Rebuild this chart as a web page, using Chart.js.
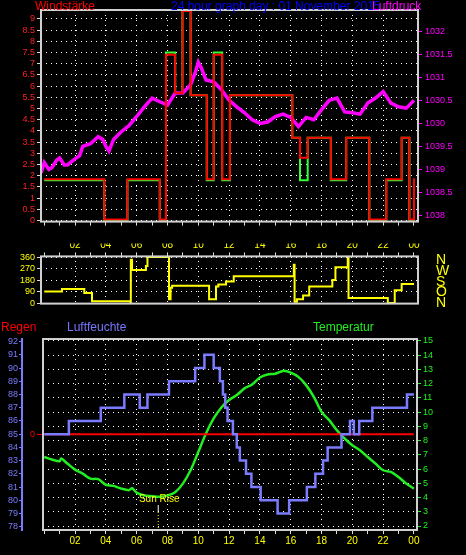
<!DOCTYPE html>
<html><head><meta charset="utf-8">
<script src="https://cdn.jsdelivr.net/npm/chart.js@4/dist/chart.umd.min.js"></script>
<style>
body{margin:0;background:#000;width:466px;height:555px;overflow:hidden;position:relative;font-family:"Liberation Sans",Arial,sans-serif}
canvas{position:absolute;left:0}
.t{position:absolute;font-size:12px;white-space:nowrap}
</style></head><body>
<canvas id="c1" width="466" height="230" style="top:0"></canvas>
<canvas id="c2" width="466" height="100" style="top:230px"></canvas>
<canvas id="c3" width="466" height="235" style="top:320px"></canvas>
<div class="t" style="left:35px;top:-1px;color:#f00">Windstärke</div>
<div class="t" style="left:171px;top:-1px;color:#0000ff">24 hour graph day : 01 November 2015</div>
<div class="t" style="left:372px;top:-1px;color:#f0f">Luftdruck</div>
<div class="t" style="left:1px;top:320px;color:#f00">Regen</div>
<div class="t" style="left:67px;top:320px;color:#7878ff">Luftfeuchte</div>
<div class="t" style="left:313px;top:320px;color:#22ee22">Temperatur</div>
<script>
// ---- data ----
const windHours = [0,3.9,5.4,7.5,7.9,8.5,8.97,9.5,10.55,11.0,11.55,12.05,16.1,16.6,17.1,18.6,19.6,21.1,22.2,23.2,23.7,24.0,24.05];
const windValues = [1.8,0,1.8,0,7.5,5.7,9.5,5.6,1.8,7.5,1.8,5.6,3.7,1.8,3.7,1.8,3.7,0,1.8,3.7,0,1.8,1.8];
const gustValues = [1.85,0.05,1.85,0.05,7.4,5.7,9.35,5.6,1.85,7.4,1.85,5.6,3.7,2.8,3.7,1.85,3.7,0.05,1.85,3.7,0.05,1.85,1.85];
const pressHours = [-0.2,0,0.3,0.5,0.8,1,1.3,1.5,2,2.3,2.5,3,3.5,3.8,4,4.2,4.5,5,5.5,6,6.5,7,7.5,8,8.5,9,9.5,9.8,10,10.2,10.5,11,11.5,12,12.5,13,13.5,14,14.5,15,15.5,16,16.5,17,17.5,18,18.5,19,19.5,20,20.5,21,21.5,22,22.5,23,23.5,24];
const pressValues = [1028.93,1029.15,1029.0,1029.04,1029.2,1029.25,1029.1,1029.1,1029.23,1029.3,1029.5,1029.56,1029.71,1029.65,1029.5,1029.4,1029.65,1029.82,1029.95,1030.15,1030.36,1030.55,1030.47,1030.4,1030.66,1030.66,1030.84,1031.1,1031.33,1031.2,1030.94,1030.9,1030.73,1030.5,1030.36,1030.23,1030.08,1030.0,1030.03,1030.15,1030.2,1030.13,1029.93,1030.13,1030.08,1030.3,1030.5,1030.55,1030.25,1030.23,1030.2,1030.44,1030.55,1030.69,1030.44,1030.36,1030.33,1030.5];
const dirHours = [0,1.15,2.6,3.1,5.6,5.62,5.7,6.6,6.7,8.1,8.2,8.3,10.7,11.15,11.3,11.8,12.3,16.2,16.25,16.4,16.8,17.2,18.7,18.9,19.7,19.75,22.3,22.75,23.2,24];
const dirValues = [90,110,80,15,0,340,260,290,360,30,120,135,30,130,145,170,210,300,10,30,60,130,180,280,360,40,0,100,150,150];
const humHours = [0,1.6,3.67,5.2,6.2,6.7,8.1,9.8,10.4,11.0,11.4,11.6,11.75,11.9,12.25,12.5,12.7,13.1,13.45,14.05,15.15,15.9,17.05,17.6,18.1,18.4,19.3,19.85,20.1,20.45,21.3,23.55,24];
const humValues = [85,86,87,88,87,88,89,90,91,90,89,88,87,86,85,84,83,82,81,80,79,80,81,82,83,84,85,86,85,86,87,88,88];
const tempHours = [0,0.5,1,1.1,1.5,2,2.5,3,3.5,4,4.5,5,5.5,5.7,6,6.5,7,7.5,8,8.5,9,9.5,10,10.5,11,11.5,12,12.5,13,13.5,14,14.5,15,15.5,16,16.5,17,17.5,18,18.5,19,19.5,20,20.5,21,21.5,22,22.5,23,23.5,24];
const tempValues = [6.85,6.67,6.55,6.74,6.39,5.96,5.68,5.33,5.29,4.9,4.82,4.63,4.52,4.65,4.35,4.15,4.1,4.05,4.15,4.38,4.98,5.92,7.2,8.5,9.56,10.33,10.85,11.2,11.67,11.95,12.44,12.65,12.7,12.9,12.78,12.48,11.9,11.08,10.02,9.44,8.73,8.15,7.68,7.32,6.85,6.39,5.92,5.8,5.44,4.98,4.63];
const rainHours = [0,24];
const rainValues = [0,0];
const windTicks = [0,0.5,1,1.5,2,2.5,3,3.5,4,4.5,5,5.5,6,6.5,7,7.5,8,8.5,9];
const pressTicks = [1028,1028.5,1029,1029.5,1030,1030.5,1031,1031.5,1032];
const pressTickLabels = ["1038","1038.5","1039","1039.5","1030","1030.5","1031","1031.5","1032"];
const dirTicks = [0,90,180,270,360];
const dirLetterPos = [-10,76,162,250,338];
const dirLetters = ["N","O","S","W","N"];
const humTicks = [78,79,80,81,82,83,84,85,86,87,88,89,90,91,92];
const tempTicks = [2,3,4,5,6,7,8,9,10,11,12,13,14,15];
const sunRiseHour = 7.4;

const pts=(xs,ys)=>xs.map((x,i)=>({x,y:ys[i]}));
const F='"Liberation Sans",Arial,sans-serif';
const frame={id:'frame',afterDraw(c){const a=c.chartArea,x=c.ctx;x.save();x.strokeStyle='#d0d0d0';x.lineWidth=2;x.strokeRect(a.left,a.top,a.right-a.left,a.bottom-a.top);x.restore();}};
const DOT=[1,4];
function xScale(min,max,pos,showLabels,h){
 return {type:'linear',position:pos,min,max,afterBuildTicks:s=>{const t=[];for(let i=0;i<=24;i++)t.push({value:i});s.ticks=t;},
  afterFit:s=>{s.height=h;},border:{display:false,dash:DOT},
  grid:{color:c=>(c.tick&&c.tick.value%2===0&&c.tick.value>0&&c.tick.value<24)?'#fff':'rgba(0,0,0,0)',lineWidth:1,drawTicks:true,tickLength:4,tickColor:'#ddd',tickBorderDash:[]},
  ticks:{display:showLabels,autoSkip:false,color:'#ffff00',font:{family:F,size:10},padding:1,maxRotation:0,callback:v=>(v%2===0&&v>0)?String(v%24).padStart(2,'0'):''}};
}
function yTicks(list){return s=>{s.ticks=list.map(v=>({value:v}));};}

new Chart(document.getElementById('c1'),{type:'line',
 data:{datasets:[
  {data:pts(windHours,gustValues),borderColor:'#ff0000',borderWidth:2,stepped:'before',pointRadius:0,yAxisID:'w'},
  {data:pts(pressHours,pressValues),borderColor:'#ff00ff',borderWidth:3.5,pointRadius:0,tension:0,yAxisID:'p'},
  {data:pts(windHours,windValues),borderColor:'#33ff33',borderWidth:2,stepped:'before',pointRadius:0,yAxisID:'w'}]},
 options:{responsive:false,animation:false,layout:{padding:{top:10}},plugins:{legend:{display:false},tooltip:{enabled:false}},
  scales:{x:xScale(-0.21,24.26,'bottom',false,8),
   w:{position:'left',min:-0.045,max:9.4,afterBuildTicks:yTicks(windTicks),afterFit:s=>{s.width=41;},border:{display:false,dash:DOT},
    grid:{color:'#fff',tickLength:4,tickColor:'#ddd',tickBorderDash:[]},ticks:{autoSkip:false,color:'#ff2020',font:{family:F,size:9},padding:2,callback:v=>String(v)}},
   p:{position:'right',min:1027.87,max:1032.46,afterBuildTicks:yTicks(pressTicks),afterFit:s=>{s.width=48;},border:{display:false},
    grid:{drawOnChartArea:false,tickLength:4,tickColor:'#f0f'},ticks:{autoSkip:false,color:'#ff00ff',font:{family:F,size:9},padding:3,callback:v=>pressTickLabels[pressTicks.indexOf(v)]}}}},
 plugins:[frame]});

new Chart(document.getElementById('c2'),{type:'line',
 data:{datasets:[{data:pts(dirHours,dirValues),borderColor:'#ffff00',borderWidth:2,stepped:'before',pointRadius:0,yAxisID:'d'},
  {data:pts(dirHours,dirValues),borderWidth:0,pointRadius:0,yAxisID:'r',showLine:false}]},
 options:{responsive:false,animation:false,layout:{padding:{bottom:21}},plugins:{legend:{display:false},tooltip:{enabled:false}},
  scales:{x:xScale(-0.21,24.26,'top',true,13),
   d:{position:'left',min:-3.9,max:365.6,afterBuildTicks:yTicks(dirTicks),afterFit:s=>{s.width=41;},border:{display:false,dash:DOT},
    grid:{color:'#fff',tickLength:4,tickColor:'#ddd',tickBorderDash:[]},ticks:{autoSkip:false,color:'#ffff00',font:{family:F,size:9},padding:2}},
   r:{position:'right',min:-14,max:365.6,afterBuildTicks:yTicks(dirLetterPos),afterFit:s=>{s.width=48;},border:{display:false},
    grid:{drawOnChartArea:false,drawTicks:false},ticks:{autoSkip:false,color:'#ffff00',font:{family:F,size:14},padding:18,callback:(v,i)=>dirLetters[i]}}}},
 plugins:[frame]});

const sun={id:'sun',afterDatasetsDraw(c){const x=c.scales.x.getPixelForValue(sunRiseHour),ctx=c.ctx,b=c.chartArea.bottom;ctx.save();
 ctx.strokeStyle='#fff';ctx.lineWidth=1;ctx.beginPath();ctx.moveTo(x,b-25);ctx.lineTo(x,b-18);ctx.stroke();
 ctx.strokeStyle='#ffff00';ctx.setLineDash([1,2]);ctx.beginPath();ctx.moveTo(x,b-18);ctx.lineTo(x,b);ctx.stroke();ctx.setLineDash([]);
 ctx.fillStyle='#ffff00';ctx.font='10px '+F;ctx.textAlign='center';ctx.textBaseline='bottom';ctx.fillText('Sun Rise',x+1,b-26);ctx.restore();}};
new Chart(document.getElementById('c3'),{type:'line',
 data:{datasets:[
  {data:pts(humHours,humValues),borderColor:'#7b7bff',borderWidth:2.5,stepped:'before',pointRadius:0,yAxisID:'h'},
  {data:pts(rainHours,rainValues),borderColor:'#ff0000',borderWidth:2,pointRadius:0,yAxisID:'rain'},
  {data:pts(tempHours,tempValues),borderColor:'#22ee22',borderWidth:2.5,pointRadius:0,tension:0.3,yAxisID:'t'}]},
 options:{responsive:false,animation:false,layout:{padding:{top:19}},plugins:{legend:{display:false},tooltip:{enabled:false}},
  scales:{x:xScale(-0.08,24.2,'bottom',true,25),
   h:{position:'left',weight:2,min:77.75,max:92.2,afterBuildTicks:yTicks(humTicks),afterFit:s=>{s.width=22;},border:{display:true,color:'#7b7bff',width:2},
    grid:{drawOnChartArea:false,tickLength:3,tickColor:'#7b7bff'},ticks:{autoSkip:false,color:'#7b7bff',font:{family:F,size:9},padding:1}},
   rain:{position:'left',weight:1,min:-7.25,max:7.2,afterBuildTicks:yTicks([0]),afterFit:s=>{s.width=21;},border:{display:false},
    grid:{drawOnChartArea:false,tickLength:6,tickColor:'#ff0000'},ticks:{autoSkip:false,color:'#ff0000',font:{family:F,size:9},padding:2}},
   t:{position:'right',min:1.72,max:15.14,afterBuildTicks:yTicks(tempTicks),afterFit:s=>{s.width=49;},border:{display:true,color:'#22ee22',width:2,dash:DOT},
    grid:{color:'#fff',tickLength:4,tickColor:'#22ee22',tickBorderDash:[]},ticks:{autoSkip:false,color:'#22ee22',font:{family:F,size:9},padding:2}}}},
 plugins:[frame,sun]});
</script></body></html>
